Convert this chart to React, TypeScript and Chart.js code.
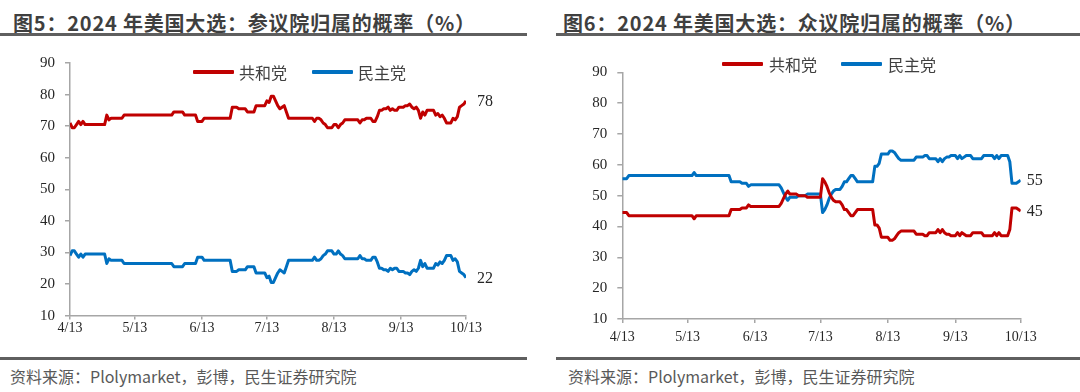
import React, { useEffect, useRef } from 'react';
import { Chart, registerables } from 'chart.js';

Chart.register(...registerables);

// ---------- data ----------
const tickDays = [0, 30, 61, 91, 122, 153, 183];
const tickLabels = ['4/13', '5/13', '6/13', '7/13', '8/13', '9/13', '10/13'];
const seriesNames = ['共和党', '民主党'];
const seriesColors = ['#C00000', '#0070C0'];

// 参议院 (Senate) — daily from 4/13 to 10/13
const senateRep = [
  71, 69.5, 69.5, 70.5, 71.5, 70.5, 71.5, 70.5, 70.5, 70.5,
  70.5, 70.5, 70.5, 70.5, 70.5, 70.5, 70.5, 73.5, 72, 72.5,
  72.5, 72.5, 72.5, 72.5, 72.5, 73.5, 73.5, 73.5, 73.5, 73.5,
  73.5, 73.5, 73.5, 73.5, 73.5, 73.5, 73.5, 73.5, 73.5, 73.5,
  73.5, 73.5, 73.5, 73.5, 73.5, 73.5, 73.5, 73.5, 74.5, 74.5,
  74.5, 74.5, 74.5, 73.5, 73.5, 73.5, 73.5, 73.5, 73.5, 71.5,
  71.5, 71.5, 72.5, 72.5, 72.5, 72.5, 72.5, 72.5, 72.5, 72.5,
  72.5, 72.5, 72.5, 72.5, 72.5, 76, 76, 76, 75.5, 75.5,
  75.5, 75.5, 74.5, 74.5, 74.5, 74.5, 76.5, 76.5, 76.5, 76.5,
  76.5, 78, 77.5, 79.5, 79.5, 78, 76.5, 75.5, 76, 76.5,
  74.5, 72.5, 72.5, 72.5, 72.5, 72.5, 72.5, 72.5, 72.5, 72.5,
  72.5, 72.5, 72.5, 71.5, 72.5, 72.5, 72, 71, 70.5, 69.5,
  69.5, 69.5, 70.5, 70.5, 69.5, 70.5, 71, 72, 72, 72,
  72, 72, 72, 72, 71, 72, 72, 72.5, 72.5, 72.5,
  71.5, 71.5, 73, 75, 75, 75.5, 75.5, 76, 75, 75.5,
  75, 75, 76, 76, 76, 76.5, 76.5, 77, 76, 75.5,
  76, 75, 72.5, 74.5, 73.5, 75, 75, 75, 75, 73.5,
  74, 73, 73.5, 72.5, 71, 71, 71, 72.5, 72, 73,
  76, 76.5, 77, 78,
];
const senateDem = [
  29, 30.5, 30.5, 29.5, 28.5, 29.5, 28.5, 29.5, 29.5, 29.5,
  29.5, 29.5, 29.5, 29.5, 29.5, 29.5, 29.5, 26.5, 28, 27.5,
  27.5, 27.5, 27.5, 27.5, 27.5, 26.5, 26.5, 26.5, 26.5, 26.5,
  26.5, 26.5, 26.5, 26.5, 26.5, 26.5, 26.5, 26.5, 26.5, 26.5,
  26.5, 26.5, 26.5, 26.5, 26.5, 26.5, 26.5, 26.5, 25.5, 25.5,
  25.5, 25.5, 25.5, 26.5, 26.5, 26.5, 26.5, 26.5, 26.5, 28.5,
  28.5, 28.5, 27.5, 27.5, 27.5, 27.5, 27.5, 27.5, 27.5, 27.5,
  27.5, 27.5, 27.5, 27.5, 27.5, 24, 24, 24, 24.5, 24.5,
  24.5, 24.5, 25.5, 25.5, 25.5, 25.5, 23.5, 23.5, 23.5, 23.5,
  23.5, 22, 22.5, 20.5, 20.5, 22, 23.5, 24.5, 24, 23.5,
  25.5, 27.5, 27.5, 27.5, 27.5, 27.5, 27.5, 27.5, 27.5, 27.5,
  27.5, 27.5, 27.5, 28.5, 27.5, 27.5, 28, 29, 29.5, 30.5,
  30.5, 30.5, 29.5, 29.5, 30.5, 29.5, 29, 28, 28, 28,
  28, 28, 28, 28, 29, 28, 28, 27.5, 27.5, 27.5,
  28.5, 28.5, 27, 25, 25, 24.5, 24.5, 24, 25, 24.5,
  25, 25, 24, 24, 24, 23.5, 23.5, 23, 24, 24.5,
  24, 25, 27.5, 25.5, 26.5, 25, 25, 25, 25, 26.5,
  26, 27, 26.5, 27.5, 29, 29, 29, 27.5, 28, 27,
  24, 23.5, 23, 22,
];

// 众议院 (House)
const houseRep = [
  44.5, 44.5, 44.5, 43.5, 43.5, 43.5, 43.5, 43.5, 43.5, 43.5,
  43.5, 43.5, 43.5, 43.5, 43.5, 43.5, 43.5, 43.5, 43.5, 43.5,
  43.5, 43.5, 43.5, 43.5, 43.5, 43.5, 43.5, 43.5, 43.5, 43.5,
  43.5, 43.5, 43.5, 42.5, 43.5, 43.5, 43.5, 43.5, 43.5, 43.5,
  43.5, 43.5, 43.5, 43.5, 43.5, 43.5, 43.5, 43.5, 43.5, 43.5,
  45.5, 45.5, 45.5, 45.5, 45.5, 46, 46, 46, 47, 46.5,
  46.5, 46.5, 46.5, 46.5, 46.5, 46.5, 46.5, 46.5, 46.5, 46.5,
  46.5, 46.5, 46.5, 47.5, 49, 50.5, 51.5, 50.5, 50.5, 50.5,
  50.5, 50, 50, 50, 50, 49.5, 49.5, 49.5, 49.5, 49.5,
  49.5, 49.5, 55.5, 54.5, 53, 51, 49.5, 48.5, 48, 48,
  48, 47, 45.5, 45.5, 44.5, 43.5, 43.5, 44.5, 45.5, 45.5,
  45.5, 45.5, 45.5, 45.5, 45.5, 45.5, 40.5, 40.5, 39.5, 36.5,
  36.5, 36.5, 36.5, 35.5, 35.5, 36, 37, 38, 38.5, 38.5,
  38.5, 38.5, 38.5, 38.5, 38.5, 37.5, 37.5, 37.5, 37.5, 37,
  37, 38, 38, 38, 38, 39, 38, 39, 38, 37.5,
  37.5, 37, 37, 37, 38, 37, 38, 37.5, 37, 37,
  37, 38, 38, 38, 38, 38, 37, 37, 37, 37,
  37, 38, 37, 38, 37, 37, 37, 37, 39, 46,
  46, 46, 45.5, 45,
];
const houseDem = [
  55.5, 55.5, 55.5, 56.5, 56.5, 56.5, 56.5, 56.5, 56.5, 56.5,
  56.5, 56.5, 56.5, 56.5, 56.5, 56.5, 56.5, 56.5, 56.5, 56.5,
  56.5, 56.5, 56.5, 56.5, 56.5, 56.5, 56.5, 56.5, 56.5, 56.5,
  56.5, 56.5, 56.5, 57.5, 56.5, 56.5, 56.5, 56.5, 56.5, 56.5,
  56.5, 56.5, 56.5, 56.5, 56.5, 56.5, 56.5, 56.5, 56.5, 56.5,
  54.5, 54.5, 54.5, 54.5, 54.5, 54, 54, 54, 53, 53.5,
  53.5, 53.5, 53.5, 53.5, 53.5, 53.5, 53.5, 53.5, 53.5, 53.5,
  53.5, 53.5, 53.5, 52.5, 51, 49.5, 48.5, 49.5, 49.5, 49.5,
  49.5, 50, 50, 50, 50, 50.5, 50.5, 50.5, 50.5, 50.5,
  50.5, 50.5, 44.5, 45.5, 47, 49, 50.5, 51.5, 52, 52,
  52, 53, 54.5, 54.5, 55.5, 56.5, 56.5, 55.5, 54.5, 54.5,
  54.5, 54.5, 54.5, 54.5, 54.5, 54.5, 59.5, 59.5, 60.5, 63.5,
  63.5, 63.5, 63.5, 64.5, 64.5, 64, 63, 62, 61.5, 61.5,
  61.5, 61.5, 61.5, 61.5, 61.5, 62.5, 62.5, 62.5, 62.5, 63,
  63, 62, 62, 62, 62, 61, 62, 61, 62, 62.5,
  62.5, 63, 63, 63, 62, 63, 62, 62.5, 63, 63,
  63, 62, 62, 62, 62, 62, 63, 63, 63, 63,
  63, 62, 63, 62, 63, 63, 63, 63, 61, 54,
  54, 54, 54.5, 55,
];

// ---------- chart panel ----------
const endLabelPlugin = {
  id: 'endLabels',
  afterDatasetsDraw(chart: any, _args: any, opts: any) {
    const ctx = chart.ctx;
    chart.data.datasets.forEach((ds: any, i: number) => {
      const meta = chart.getDatasetMeta(i);
      const pt = meta.data[meta.data.length - 1];
      const last = ds.data[ds.data.length - 1];
      ctx.save();
      ctx.font = '16px "Liberation Serif", "Times New Roman", serif';
      ctx.fillStyle = '#262626';
      ctx.textAlign = 'left';
      ctx.textBaseline = 'middle';
      ctx.fillText(String(Math.round(last.y)), pt.x + (opts.offset || 8), pt.y + 1);
      ctx.restore();
    });
  },
};

type PanelProps = {
  rep: number[];
  dem: number[];
  left: number;
  top: number;
  width: number;
  height: number;
  padTop: number;
  padRight: number;
  yAxisW: number;
  xAxisH: number;
  xPad: number;
  labelOffset: number;
};

function Panel(p: PanelProps) {
  const ref = useRef<HTMLCanvasElement | null>(null);
  useEffect(() => {
    if (!ref.current) return;
    const axisColor = '#a6a6a6';
    const tickFont = { family: '"Liberation Serif", "Times New Roman", serif', size: 14 };
    const chart = new Chart(ref.current, {
      type: 'line',
      data: {
        datasets: [p.rep, p.dem].map((arr, i) => ({
          label: seriesNames[i],
          data: arr.map((v, d) => ({ x: d, y: v })),
          borderColor: seriesColors[i],
          backgroundColor: seriesColors[i],
          borderWidth: 3,
          pointRadius: 0,
          tension: 0,
          borderJoinStyle: 'round' as const,
        })),
      },
      options: {
        animation: false,
        responsive: false,
        maintainAspectRatio: false,
        layout: { padding: { left: 0, top: p.padTop, right: p.padRight, bottom: 0 } },
        plugins: {
          legend: { display: false },
          tooltip: { enabled: false },
          endLabels: { offset: p.labelOffset },
        } as any,
        scales: {
          x: {
            type: 'linear',
            min: 0,
            max: 183,
            afterBuildTicks: (axis: any) => {
              axis.ticks = tickDays.map((v) => ({ value: v }));
            },
            afterFit: (axis: any) => {
              axis.height = p.xAxisH;
            },
            ticks: {
              autoSkip: false,
              maxRotation: 0,
              padding: p.xPad,
              color: '#262626',
              font: tickFont,
              callback: (v: any) => {
                const k = tickDays.indexOf(Number(v));
                return k >= 0 ? tickLabels[k] : '';
              },
            },
            grid: {
              drawOnChartArea: false,
              drawTicks: true,
              tickLength: 4,
              color: axisColor,
              lineWidth: 1.5,
            },
            border: { display: true, color: axisColor, width: 1.5 },
          },
          y: {
            min: 10,
            max: 90,
            afterFit: (axis: any) => {
              axis.width = p.yAxisW;
            },
            ticks: {
              stepSize: 10,
              padding: 10,
              color: '#262626',
              font: { ...tickFont, size: 15 },
            },
            grid: {
              drawOnChartArea: false,
              drawTicks: true,
              tickLength: 5,
              color: axisColor,
              lineWidth: 1.5,
            },
            border: { display: true, color: axisColor, width: 1.5 },
          },
        },
      },
      plugins: [endLabelPlugin as any],
    });
    return () => chart.destroy();
  }, []);
  return (
    <canvas
      ref={ref}
      width={p.width}
      height={p.height}
      style={{ position: 'absolute', left: p.left, top: p.top, width: p.width, height: p.height, display: 'block' }}
    />
  );
}

function Legend({ left, top, items }: { left: number[]; top: number; items: number[] }) {
  return (
    <>
      {items.map((i) => (
        <React.Fragment key={i}>
          <div
            style={{
              position: 'absolute',
              left: left[i * 2],
              top: top - 2,
              width: 41,
              height: 4,
              background: seriesColors[i],
              borderRadius: 1,
            }}
          />
          <div
            style={{
              position: 'absolute',
              left: left[i * 2 + 1],
              top: top - 11,
              height: 22,
              lineHeight: '22px',
              fontSize: 16,
              color: '#404040',
              fontFamily: '"Noto Sans CJK SC", sans-serif',
              whiteSpace: 'nowrap',
            }}
          >
            {seriesNames[i]}
          </div>
        </React.Fragment>
      ))}
    </>
  );
}

const titleStyle: React.CSSProperties = {
  position: 'absolute',
  top: 9,
  height: 27,
  lineHeight: '27px',
  fontSize: 20,
  fontWeight: 700,
  letterSpacing: 0.8,
  color: '#3f3f3f',
  fontFamily: '"Noto Sans CJK SC", sans-serif',
  whiteSpace: 'nowrap',
};
const sourceStyle: React.CSSProperties = {
  position: 'absolute',
  top: 366,
  height: 20,
  lineHeight: '20px',
  fontSize: 16,
  color: '#595959',
  fontFamily: '"Noto Sans CJK SC", sans-serif',
  whiteSpace: 'nowrap',
};
const rule = (left: number, top: number, width: number): React.CSSProperties => ({
  position: 'absolute',
  left,
  top,
  width,
  height: 2.5,
  background: '#5f5f5f',
});

export default function App() {
  return (
    <div
      style={{
        position: 'fixed',
        left: 0,
        top: 0,
        width: 1080,
        height: 392,
        background: '#ffffff',
        overflow: 'hidden',
      }}
    >
      <div style={{ ...titleStyle, left: 13 }}>图5：2024 年美国大选：参议院归属的概率（%）</div>
      <div style={{ ...titleStyle, left: 563 }}>图6：2024 年美国大选：众议院归属的概率（%）</div>
      <div style={rule(0, 33, 527)} />
      <div style={rule(556, 33, 524)} />

      <Panel
        rep={senateRep}
        dem={senateDem}
        left={0}
        top={40}
        width={540}
        height={315}
        padTop={23}
        padRight={74}
        yAxisW={70}
        xAxisH={39.4}
        xPad={0}
        labelOffset={11}
      />
      <Panel
        rep={houseRep}
        dem={houseDem}
        left={540}
        top={40}
        width={540}
        height={315}
        padTop={32.3}
        padRight={59.3}
        yAxisW={82.3}
        xAxisH={36}
        xPad={6}
        labelOffset={6}
      />

      <Legend left={[193, 239, 312, 358]} top={72} items={[0, 1]} />
      <Legend left={[722, 769, 841, 888]} top={64} items={[0, 1]} />

      <div style={rule(0, 357, 527)} />
      <div style={rule(556, 357, 524)} />
      <div style={{ ...sourceStyle, left: 10 }}>资料来源：Plolymarket，彭博，民生证券研究院</div>
      <div style={{ ...sourceStyle, left: 568 }}>资料来源：Plolymarket，彭博，民生证券研究院</div>
    </div>
  );
}
